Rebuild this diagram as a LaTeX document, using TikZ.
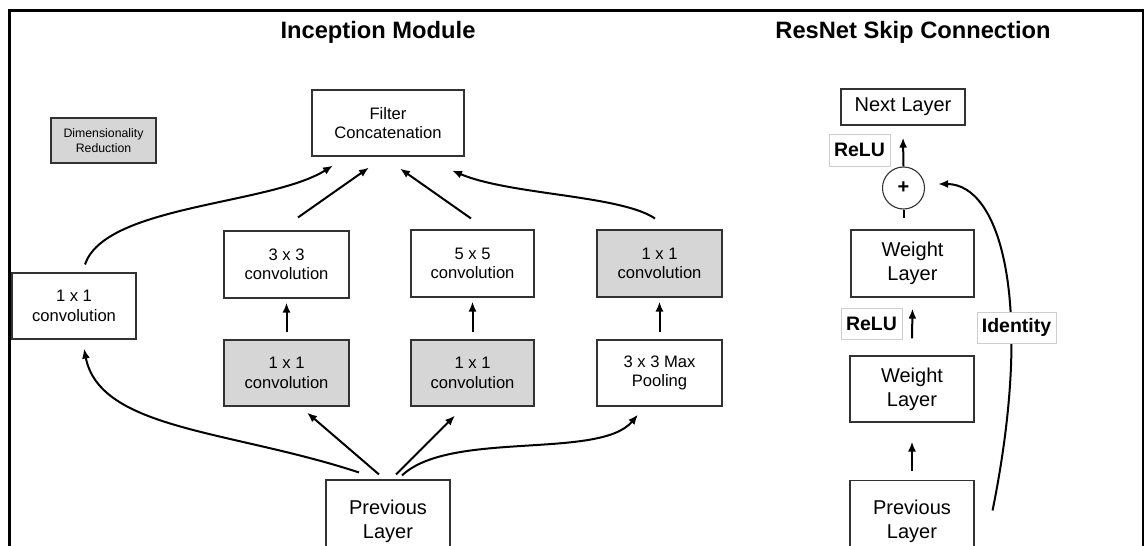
\documentclass[tikz,border=0pt]{standalone}
\usepackage{fontspec}
\setmainfont{Liberation Sans}
\usetikzlibrary{arrows.meta}
\definecolor{boxgray}{RGB}{214,214,214}
\definecolor{edge}{RGB}{50,50,50}
\definecolor{lbledge}{RGB}{205,205,205}
\begin{document}
\begin{tikzpicture}[x=1pt,y=-1pt,
  box/.style={draw=edge, line width=1.1pt, fill=white, inner sep=0pt, align=center,
    font=\fontsize{16.6}{19.5}\selectfont},
  graybox/.style={box, fill=boxgray},
  bigbox/.style={box, font=\fontsize{20}{24}\selectfont},
  lbl/.style={draw=lbledge, line width=0.8pt, fill=white, inner sep=0pt, align=center,
    font=\fontsize{19.5}{22}\selectfont\bfseries},
  ttl/.style={inner sep=0pt, font=\fontsize{23.7}{28}\selectfont\bfseries},
  arr/.style={line width=2pt, -{Latex[length=10pt,width=8pt]}},
  ln/.style={line width=2pt}]
\useasboundingbox (0,0) rectangle (1144,546);
\fill[white] (0,0) rectangle (1144,546);
% frame
\draw[line width=2.6pt] (9.5,560) -- (9.5,10.5) -- (1144,10.5);
\draw[line width=2pt] (1142.5,10.5) -- (1142.5,560);

% titles
\node[ttl] (t1) at (378,32) {Inception Module};
\node[ttl] (t2) at (913,32) {ResNet Skip Connection};

% Inception boxes
\node[graybox, minimum width=105pt, minimum height=45pt, font=\fontsize{12.3}{15.5}\selectfont]
  (dim) at (103.5,140.5) {Dimensionality\\Reduction};
\node[box, minimum width=152pt, minimum height=66pt] (filt) at (388,123) {Filter\\Concatenation};
\node[box, minimum width=124pt, minimum height=66pt] (c1l) at (74,306) {1 x 1\\convolution};
\node[box, minimum width=125pt, minimum height=67pt] (c33) at (286.5,264.5) {3 x 3\\convolution};
\node[box, minimum width=123pt, minimum height=67pt] (c55) at (472.5,263.5) {5 x 5\\convolution};
\node[graybox, minimum width=125pt, minimum height=67pt] (c1r) at (659.5,263.5) {1 x 1\\convolution};
\node[graybox, minimum width=125pt, minimum height=66pt] (r1) at (286.5,373) {1 x 1\\convolution};
\node[graybox, minimum width=123pt, minimum height=66pt] (r2) at (472.5,373) {1 x 1\\convolution};
\node[box, minimum width=125pt, minimum height=66pt] (mp) at (659.5,373) {3 x 3 Max\\Pooling};
\node[bigbox, minimum width=124pt, minimum height=82pt] (prev) at (388,521) {Previous\\Layer};

% Inception connectors
\draw[arr] ([xshift=-29pt,yshift=7pt]prev.north) .. controls (230,430) and (100,430) .. ([xshift=10pt,yshift=-9pt]c1l.south);
\draw[arr] ([xshift=-9pt,yshift=5pt]prev.north) -- ([xshift=20.5pt,yshift=-6pt]r1.south);
\draw[arr] ([xshift=8pt,yshift=5pt]prev.north) -- ([xshift=-17.5pt,yshift=-9pt]r2.south);
\draw[arr] ([xshift=14pt,yshift=4pt]prev.north) .. controls (450,430) and (600,460) .. ([xshift=-21.5pt,yshift=-8pt]mp.south);

\draw[arr] ([yshift=7pt]r1.north) -- ([yshift=-4pt]c33.south);
\draw[arr] ([yshift=7pt]r2.north) -- ([yshift=-4pt]c55.south);
\draw[arr] ([yshift=7pt]mp.north) -- ([yshift=-4pt]c1r.south);

\draw[arr] ([xshift=11pt,yshift=8pt]c1l.north) .. controls (105,205) and (270,205) .. ([xshift=-55pt,yshift=-9pt]filt.south);
\draw[arr] ([xshift=11.5pt,yshift=13pt]c33.north) -- ([xshift=-19pt,yshift=-11pt]filt.south);
\draw[arr] ([xshift=-1.5pt,yshift=11pt]c55.north) -- ([xshift=12pt,yshift=-12pt]filt.south);
\draw[arr] ([xshift=-4.5pt,yshift=11pt]c1r.north) .. controls (620,195) and (510,195) .. ([xshift=64pt,yshift=-14pt]filt.south);

% ResNet
\node[bigbox, minimum width=124pt, minimum height=36pt] (next) at (903,107) {Next Layer};
\node[lbl, minimum width=61pt, minimum height=32pt] (relu1) at (859.5,150) {ReLU};
\node[draw=edge, line width=1.1pt, fill=white, circle, minimum size=42pt, inner sep=0pt,
  font=\fontsize{20}{24}\selectfont\bfseries] (plus) at (903.5,188) {+};
\node[bigbox, minimum width=123pt, minimum height=67pt] (wl1) at (912.5,263.5) {Weight\\Layer};
\node[lbl, minimum width=61pt, minimum height=31pt] (relu2) at (871.5,323.5) {ReLU};
\node[bigbox, minimum width=124pt, minimum height=66pt] (wl2) at (912,389) {Weight\\Layer};
\node[bigbox, minimum width=124pt, minimum height=82pt] (prev2) at (912,521.5) {Previous\\Layer};

\draw[arr] (plus.north) -- ([yshift=-12pt]next.south);
\draw[ln] (plus.south) -- ++(0,8);
\draw[arr] ([yshift=17pt]wl2.north) -- ([yshift=-11pt]wl1.south);
\draw[arr] ([yshift=9pt]prev2.north) -- ([yshift=-19pt]wl2.south);
\draw[arr] ([xshift=18pt,yshift=11pt]prev2.east) .. controls (1035,300) and (1000,184) .. ([xshift=13pt,yshift=4pt]plus.east);
\node[lbl, minimum width=79pt, minimum height=31pt] (ident) at (1016.5,327.5) {Identity};
\end{tikzpicture}
\end{document}
